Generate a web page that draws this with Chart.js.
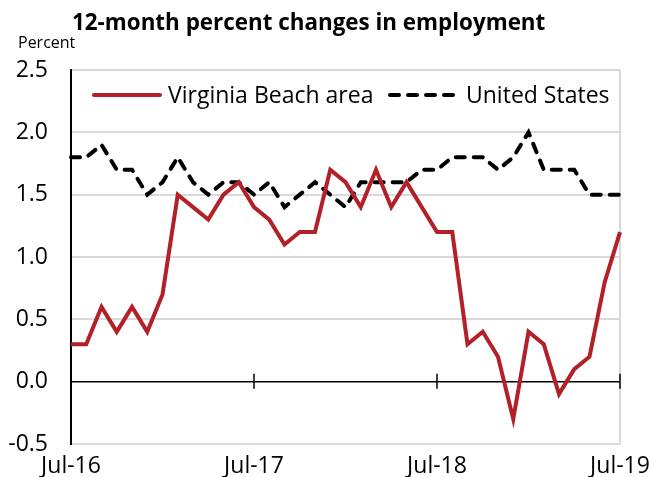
<!DOCTYPE html>
<html>
<head>
<meta charset="utf-8">
<script src="https://cdn.jsdelivr.net/npm/chart.js@4"></script>
<style>
  html, body { margin: 0; padding: 0; background: #fff; }
  #wrap { width: 649px; height: 477px; }
</style>
</head>
<body>
<div id="wrap"><canvas id="chart" width="649" height="477"></canvas></div>
<script>
// meses de Jul-16 a Jul-19
var meses = [
  'Jul-16', 'Aug-16', 'Sep-16', 'Oct-16', 'Nov-16', 'Dec-16',
  'Jan-17', 'Feb-17', 'Mar-17', 'Apr-17', 'May-17', 'Jun-17',
  'Jul-17', 'Aug-17', 'Sep-17', 'Oct-17', 'Nov-17', 'Dec-17',
  'Jan-18', 'Feb-18', 'Mar-18', 'Apr-18', 'May-18', 'Jun-18',
  'Jul-18', 'Aug-18', 'Sep-18', 'Oct-18', 'Nov-18', 'Dec-18',
  'Jan-19', 'Feb-19', 'Mar-19', 'Apr-19', 'May-19', 'Jun-19',
  'Jul-19'
];
var virginiaBeach = [
  0.3, 0.3, 0.6, 0.4, 0.6, 0.4, 0.7, 1.5, 1.4, 1.3, 1.5, 1.6,
  1.4, 1.3, 1.1, 1.2, 1.2, 1.7, 1.6, 1.4, 1.7, 1.4, 1.6, 1.4,
  1.2, 1.2, 0.3, 0.4, 0.2, -0.3, 0.4, 0.3, -0.1, 0.1, 0.2, 0.8,
  1.2
];
var estadosUnidos = [
  1.8, 1.8, 1.9, 1.7, 1.7, 1.5, 1.6, 1.8, 1.6, 1.5, 1.6, 1.6,
  1.5, 1.6, 1.4, 1.5, 1.6, 1.5, 1.4, 1.6, 1.6, 1.6, 1.6, 1.7,
  1.7, 1.8, 1.8, 1.8, 1.7, 1.8, 2.0, 1.7, 1.7, 1.7, 1.5, 1.5,
  1.5
];
var rotulosY = ['-0.5', '0.0', '0.5', '1.0', '1.5', '2.0', '2.5'];

var FONTE = '"Open Sans", Lato, sans-serif';
var VERMELHO = '#B22028';
var CINZA = '#D9D9D9';

// título, "Percent", legenda, eixo zero e borda direita
var extras = {
  id: 'extras',
  beforeDatasetsDraw: function (chart) {
    var ctx = chart.ctx, a = chart.chartArea;
    var x = chart.scales.x, y = chart.scales.y;
    var y0 = y.getPixelForValue(0);
    ctx.save();
    // borda direita
    ctx.strokeStyle = CINZA;
    ctx.lineWidth = 2;
    ctx.beginPath();
    ctx.moveTo(a.right, a.top);
    ctx.lineTo(a.right, a.bottom);
    ctx.stroke();
    // eixo no zero com marcas anuais
    ctx.strokeStyle = '#000';
    ctx.lineWidth = 1.5;
    ctx.beginPath();
    ctx.moveTo(a.left, y0);
    ctx.lineTo(a.right, y0);
    for (var i = 12; i < meses.length; i += 12) {
      var px = x.getPixelForValue(i);
      ctx.moveTo(px, y0 - 8);
      ctx.lineTo(px, y0 + 7);
    }
    ctx.stroke();
    ctx.restore();
  },
  afterDraw: function (chart) {
    var ctx = chart.ctx;
    ctx.save();
    ctx.fillStyle = '#000';
    ctx.textBaseline = 'alphabetic';
    ctx.textAlign = 'left';
    ctx.font = 'bold 22.4px ' + FONTE;
    ctx.fillText('12-month percent changes in employment', 72, 30);
    ctx.font = '16px ' + FONTE;
    ctx.fillText('Percent', 18, 48);

    // legenda
    var ds = chart.data.datasets;
    var itens = [
      { x: 94, tx: 168 },
      { x: 390, tx: 466 }
    ];
    ctx.font = '23px ' + FONTE;
    ctx.textBaseline = 'middle';
    ds.forEach(function (d, k) {
      var it = itens[k];
      ctx.strokeStyle = d.borderColor;
      ctx.lineWidth = d.borderWidth;
      ctx.lineCap = 'round';
      ctx.setLineDash(d.borderDash || []);
      ctx.beginPath();
      ctx.moveTo(it.x, 95);
      ctx.lineTo(it.x + 66, 95);
      ctx.stroke();
      ctx.setLineDash([]);
      ctx.fillText(d.label, it.tx, 96);
    });
    ctx.restore();
  }
};

new Chart(document.getElementById('chart').getContext('2d'), {
  type: 'line',
  data: {
    labels: meses,
    datasets: [
      {
        label: 'Virginia Beach area',
        data: virginiaBeach,
        borderColor: VERMELHO,
        borderWidth: 4,
        borderJoinStyle: 'miter',
        pointRadius: 0,
        tension: 0,
        fill: false
      },
      {
        label: 'United States',
        data: estadosUnidos,
        borderColor: '#000',
        borderWidth: 4,
        borderDash: [9, 9],
        borderCapStyle: 'round',
        pointRadius: 0,
        tension: 0,
        fill: false
      }
    ]
  },
  options: {
    responsive: false,
    animation: false,
    layout: { padding: { top: 70, right: 29, left: 0, bottom: 0 } },
    plugins: {
      legend: { display: false },
      tooltip: { enabled: false },
      title: { display: false }
    },
    scales: {
      x: {
        type: 'category',
        offset: false,
        grid: { display: false, drawTicks: false },
        border: { display: false },
        ticks: {
          autoSkip: false,
          maxRotation: 0,
          minRotation: 0,
          padding: 9,
          color: '#000',
          font: { family: FONTE, size: 23 },
          callback: function (v, i) { return i % 12 === 0 ? meses[i] : ''; }
        },
        afterFit: function (s) {
          s.height = 33;
          s.paddingLeft = 0;
          s.paddingRight = 0;
        }
      },
      y: {
        min: -0.5,
        max: 2.5,
        grid: {
          drawTicks: false,
          color: function (c) { return c.tick && c.tick.value === 0 ? 'rgba(0,0,0,0)' : CINZA; },
          lineWidth: 2
        },
        border: { display: true, color: '#000', width: 2 },
        ticks: {
          stepSize: 0.5,
          padding: 23,
          color: '#000',
          font: { family: FONTE, size: 23 },
          callback: function (v) { return rotulosY[Math.round((v + 0.5) / 0.5)]; }
        },
        afterFit: function (s) {
          s.width = 71;
          s.paddingTop = 0;
          s.paddingBottom = 0;
        }
      }
    }
  },
  plugins: [extras]
});
</script>
</body>
</html>
